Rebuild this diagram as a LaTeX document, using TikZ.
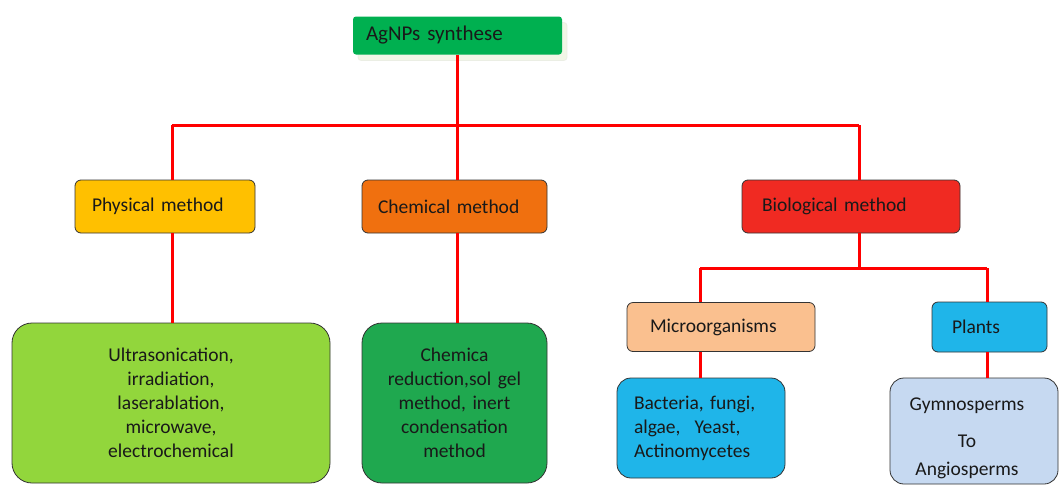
\documentclass[tikz,border=0pt]{standalone}
\usepackage{fontspec}
\setmainfont{Carlito}
\usetikzlibrary{shadows}
\definecolor{topgreen}{HTML}{00B050}
\definecolor{physcol}{HTML}{FFC000}
\definecolor{chemcol}{HTML}{F0700F}
\definecolor{biocol}{HTML}{F02A22}
\definecolor{lightgreen}{HTML}{92D63C}
\definecolor{darkgreen}{HTML}{1FA84F}
\definecolor{microcol}{HTML}{FAC08F}
\definecolor{bluecol}{HTML}{1FB5E9}
\definecolor{gymcol}{HTML}{C6D9F1}
\definecolor{linkred}{HTML}{FF0000}
\definecolor{shadowcol}{HTML}{E4EFCF}
\begin{document}
\begin{tikzpicture}[x=1pt,y=-1pt,
  box/.style={draw=black!80, line width=0.8pt, rounded corners=6pt, text=black!90,
    font=\fontsize{19.5}{24}\selectfont, inner ysep=0pt},
  headbox/.style={box, align=left},
  bigbox/.style={box, rounded corners=20pt, align=center},
  link/.style={draw=linkred, line width=3pt}]
\fill[white] (0,0) rectangle (1060,485);
\useasboundingbox (0,0) rectangle (1060,485);

% top
\node[box, draw=none, fill=topgreen, rounded corners=3pt, font=\fontsize{21}{24}\selectfont,
  minimum width=209pt, minimum height=38pt, inner xsep=13pt, text width=183pt, align=left,
  drop shadow={shadow xshift=5pt, shadow yshift=-6pt, fill=shadowcol, draw=shadowcol!80!black!40}]
  (top) at (457.5,35.5) {AgNPs synthese};

% level 1
\node[headbox, fill=physcol, minimum width=180pt, minimum height=53pt, inner xsep=17pt, text width=146pt]
  (phys) at (165,206.5) {Physical method};
\node[headbox, fill=chemcol, minimum width=185pt, minimum height=53pt, inner xsep=16pt, text width=153pt]
  (chem) at (454.5,206.5) {Chemical method};
\node[headbox, fill=biocol, minimum width=218pt, minimum height=53pt, inner xsep=20pt, text width=178pt]
  (bio) at (851,206.5) {Biological method};

% level 2 (biological)
\node[headbox, fill=microcol, minimum width=188pt, minimum height=49pt, inner xsep=23pt, text width=142pt]
  (micro) at (721,327) {Microorganisms};
\node[headbox, fill=bluecol, minimum width=115pt, minimum height=50pt, inner xsep=20pt, text width=75pt]
  (plants) at (989.5,327) {Plants};

% bottom boxes
\node[bigbox, fill=lightgreen, minimum width=318pt, minimum height=160pt, inner xsep=10pt, text width=298pt]
  (light) at (171,403) {Ultrasonication,\\irradiation,\\laserablation,\\microwave,\\electrochemical};
\node[bigbox, fill=darkgreen, minimum width=185pt, minimum height=160pt, inner xsep=8pt, text width=169pt]
  (dark) at (454.5,403) {Chemica\\reduction,sol gel\\method, inert\\condensation\\method};
\node[box, rounded corners=14pt, fill=bluecol, minimum width=168pt, minimum height=100pt, inner xsep=17pt,
  text width=134pt, align=left]
  (bact) at (701,428) {Bacteria, fungi,\\algae,\hspace{14pt}Yeast,\\Actinomycetes};
\node[box, rounded corners=14pt, fill=gymcol, minimum width=168pt, minimum height=106pt]
  (gymbox) at (974,431) {};
\node[font=\fontsize{19.5}{24}\selectfont, text=black!90, align=center, inner sep=0pt]
  (gym) at (967,438) {Gymnosperms\\[13pt]To\\[4pt]Angiosperms};

% connector x positions
\coordinate (bus) at (0,125);
\coordinate (bus2) at (0,268);
\coordinate (xP) at (172,0);
\coordinate (xC) at (457,0);
\coordinate (xB) at (859,0);
\coordinate (xM) at (700,0);
\coordinate (xG) at (987,0);

% connectors
\draw[link] (top.south -| xC) -- (bus -| xC);
\draw[link] (bus -| xP) -- (bus -| xB);
\draw[link] (bus -| xP) -- (phys.north -| xP);
\draw[link] (bus -| xC) -- (chem.north -| xC);
\draw[link] (bus -| xB) -- (bio.north -| xB);
\draw[link] (phys.south -| xP) -- (light.north -| xP);
\draw[link] (chem.south -| xC) -- (dark.north -| xC);
\draw[link] (bio.south -| xB) -- (bus2 -| xB);
\draw[link] (bus2 -| xM) -- (bus2 -| xG);
\draw[link] (bus2 -| xM) -- (micro.north -| xM);
\draw[link] (bus2 -| xG) -- (plants.north -| xG);
\draw[link] (micro.south -| xM) -- (bact.north -| xM);
\draw[link] (plants.south -| xG) -- (gymbox.north -| xG);
\end{tikzpicture}
\end{document}
